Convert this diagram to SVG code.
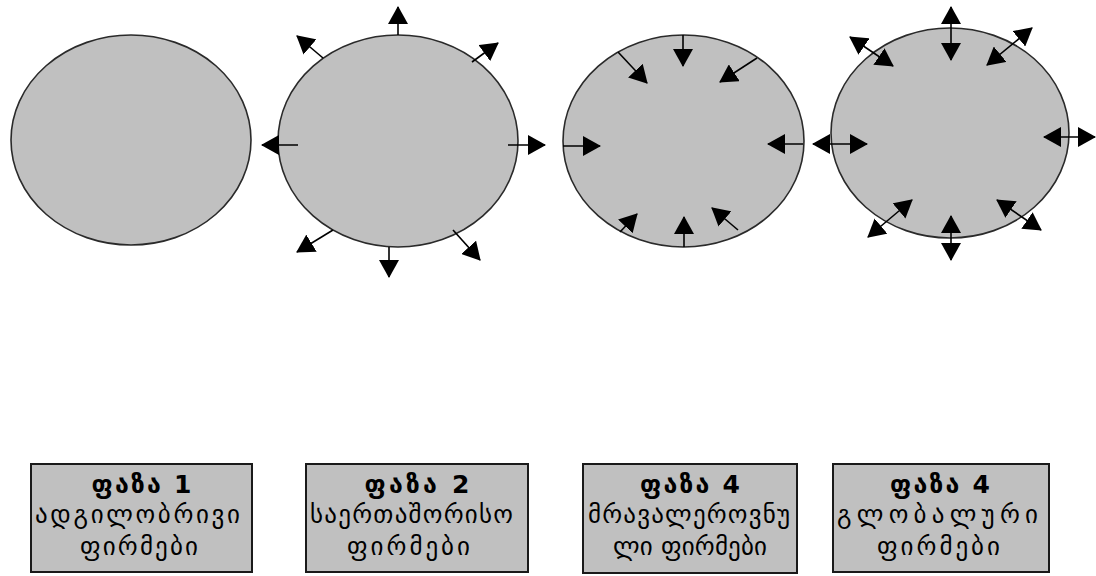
<svg xmlns="http://www.w3.org/2000/svg" width="1096" height="576" viewBox="0 0 1096 576">
<defs>
<marker id="ah" markerUnits="userSpaceOnUse" markerWidth="18" markerHeight="20" refX="17" refY="10" orient="auto-start-reverse" viewBox="0 0 18 20">
<path d="M0,0 L18,10 L0,20 z" fill="#000"/>
</marker>
<style>
.ell{fill:#c0c0c0;stroke:#2a2a2a;stroke-width:1.6}
.box{fill:#c0c0c0;stroke:#1a1a1a;stroke-width:2}
.arr{stroke:#000;stroke-width:1.6;fill:none;marker-end:url(#ah)}
.dbl{marker-start:url(#ah)}
.t{font-family:"DejaVu Sans",sans-serif;fill:#000;text-anchor:middle}
.h{font-size:25px;font-weight:bold}
.b{font-size:25px}
</style>
</defs>
<rect width="1096" height="576" fill="#fff"/>
<g id="phase1-circle"><ellipse class="ell" cx="131" cy="140" rx="120" ry="105"/></g>
<g id="phase2-circle"><ellipse class="ell" cx="398" cy="141" rx="120" ry="106"/></g>
<g id="phase3-circle"><ellipse class="ell" cx="683.5" cy="141" rx="120.5" ry="106"/></g>
<g id="phase4-circle"><ellipse class="ell" cx="950" cy="133" rx="119" ry="105"/></g>
<g id="connectors">
<path class="arr" d="M398,35 L398,7"/>
<path class="arr" d="M323,58 L297,36"/>
<path class="arr" d="M472,62 L498,43"/>
<path class="arr" d="M298,145 L262,145"/>
<path class="arr" d="M508,145 L545,145"/>
<path class="arr" d="M333,230 L297,252"/>
<path class="arr" d="M389,247 L389,277"/>
<path class="arr" d="M453,230 L480,260"/>
<path class="arr" d="M683,35 L683,66"/>
<path class="arr" d="M618,52 L647,83"/>
<path class="arr" d="M757,58 L720,82"/>
<path class="arr" d="M563,146 L600,146"/>
<path class="arr" d="M803,144 L768,144"/>
<path class="arr" d="M620,232 L637,214"/>
<path class="arr" d="M684,247 L684,217"/>
<path class="arr" d="M738,230 L712,208"/>
<path class="arr dbl" d="M951,7 L951,60"/>
<path class="arr dbl" d="M850,37 L893,66"/>
<path class="arr dbl" d="M1032,28 L987,65"/>
<path class="arr dbl" d="M813,144 L867,144"/>
<path class="arr dbl" d="M1044,137 L1095,137"/>
<path class="arr dbl" d="M912,200 L868,237"/>
<path class="arr dbl" d="M951,216 L951,260"/>
<path class="arr dbl" d="M997,200 L1041,230"/>
</g>
<g id="box1">
<rect class="box" x="31" y="464" width="221" height="108"/>
<text class="t h" x="141.5" y="493" textLength="100" lengthAdjust="spacing">ფაზა 1</text>
<text class="t b" x="137.5" y="523" textLength="205" lengthAdjust="spacing">ადგილობრივი</text>
<text class="t b" x="139" y="555" textLength="118" lengthAdjust="spacing">ფირმები</text>
</g>
<g id="box2">
<rect class="box" x="306" y="464" width="222" height="108"/>
<text class="t h" x="417" y="493" textLength="105" lengthAdjust="spacing">ფაზა 2</text>
<text class="t b" x="411.5" y="523" textLength="203" lengthAdjust="spacing">საერთაშორისო</text>
<text class="t b" x="408.5" y="555" textLength="123" lengthAdjust="spacing">ფირმები</text>
</g>
<g id="box3">
<rect class="box" x="583" y="464" width="214" height="109"/>
<text class="t h" x="690" y="493" textLength="100" lengthAdjust="spacing">ფაზა 4</text>
<text class="t b" x="689" y="523" textLength="202" lengthAdjust="spacing">მრავალეროვნუ</text>
<text class="t b" x="690" y="555" textLength="154" lengthAdjust="spacing">ლი ფირმები</text>
</g>
<g id="box4">
<rect class="box" x="833" y="464" width="216" height="108"/>
<text class="t h" x="940" y="493" textLength="100" lengthAdjust="spacing">ფაზა 4</text>
<text class="t b" x="937.5" y="523" textLength="201" lengthAdjust="spacing">გლობალური</text>
<text class="t b" x="938.5" y="555" textLength="123" lengthAdjust="spacing">ფირმები</text>
</g>
</svg>
